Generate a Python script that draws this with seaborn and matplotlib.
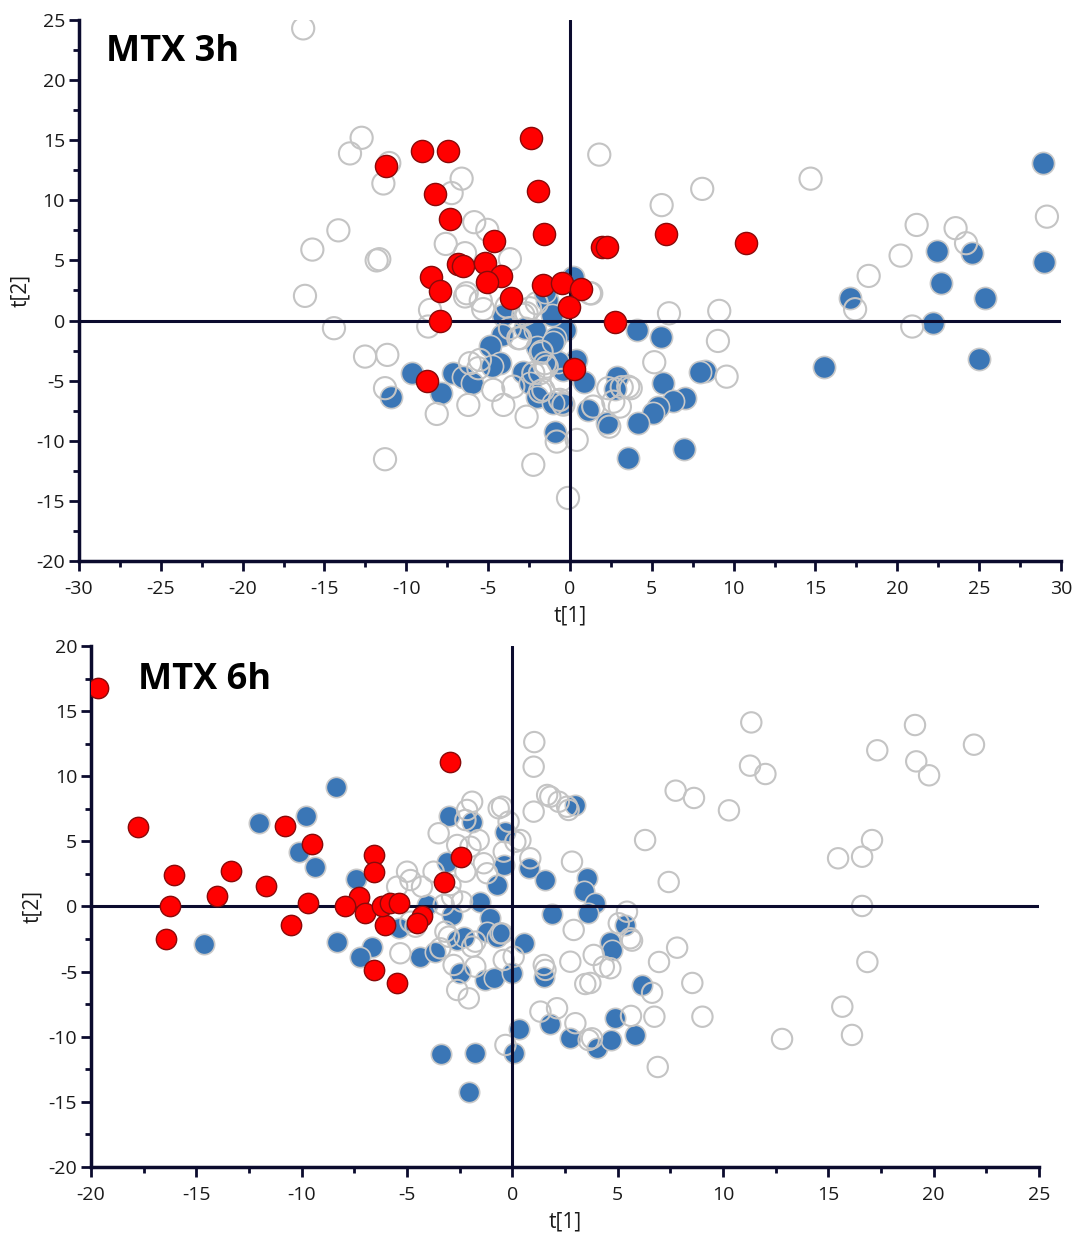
import numpy as np
import pandas as pd
import matplotlib
matplotlib.use("Agg")
import matplotlib.pyplot as plt
from matplotlib.ticker import MultipleLocator
import seaborn as sns

# ---------------- MTX 3h scores ----------------
h3_red_x = [-11.24, -9.04, -7.45, -2.38, -8.25, -1.95, -7.33, -1.59, -4.64, 1.98, 2.24,
            5.86, 10.73, -6.84, -6.55, -5.21, -4.23, -5.05, -8.47, -7.94, -3.62, -1.67,
            -0.51, 0.65, -0.08, -7.94, 2.75, 0.26, -8.75]
h3_red_y = [12.85, 14.1, 14.1, 15.2, 10.5, 10.8, 8.45, 7.2, 6.6, 6.1, 6.1,
            7.2, 6.48, 4.7, 4.54, 4.8, 3.73, 3.2, 3.6, 2.49, 1.9, 2.99,
            3.1, 2.65, 1.13, -0.06, -0.15, -4.0, -5.0]

h3_blue_x = [28.88, 28.96, 22.42, 24.54, 22.66, 25.33, 17.08, 22.15, 24.97, 15.5,
             4.09, 5.58, -0.3, 8.25, 7.94, 5.66, 2.85, 2.75, 0.86, -0.4, 0.35,
             7.03, 6.31, 5.39, 5.09, 4.17, 2.28, 1.12, 3.56, 6.98, -0.51, -0.92,
             -4.07, -4.17, -4.89, -4.28, -4.75, -7.13, -6.55, -6.0, -7.9, -9.63, -10.95,
             -2.75, -2.14, -1.42, -1.12, -0.92, -2.03, -1.83, -0.71, -2.85, -2.44,
             -2.03, -1.02, -1.53, 0.2, -1.02]
h3_blue_y = [13.14, 4.9, 5.77, 5.65, 3.1, 1.9, 1.9, -0.22, -3.2, -3.9,
             -0.78, -1.39, -0.78, -4.17, -4.25, -5.2, -4.67, -5.7, -5.13, -4.1, -3.28,
             -6.46, -6.69, -7.16, -7.7, -8.5, -8.54, -7.44, -11.4, -10.7, -6.88, -9.24,
             0.47, -1.2, -2.1, -3.55, -3.78, -4.38, -4.67, -5.2, -6.05, -4.38, -6.33,
             -0.64, -0.78, 1.71, 0.47, -1.47, -2.17, -2.72, -3.42, -4.25, -5.2,
             -6.33, -6.88, 2.4, 3.65, -1.75]

h3_open_x = [-16.3, -12.73, -13.44, -11.04, -11.4, -6.62, -7.23, -14.15, -15.74, -11.81,
             -11.65, -16.19, -14.42, -5.85, -5.05, -7.59, -6.41, -3.67, -6.41, -5.45,
             -5.3, -8.55, -8.66, 1.79, 1.3, -2.44, -2.03, -2.85, 8.08, 5.6, 14.7,
             21.18, 23.56, 24.2, 29.14, 20.2, 18.25, 17.42, 20.91, 6.05, 9.12, 9.04,
             5.15, 9.57, 2.34, 3.16, 3.71, 2.65, 2.4, 1.42, 0.41, -0.4, -0.12,
             -12.52, -11.16, -11.3, -8.14, -11.3, -6.31, -6.11, -5.5, -6.21, -4.07,
             -4.69, -3.46, -2.65, -2.24, -3.87, -3.05, -2.65, -1.73, -1.53, -2.24,
             -1.63, -0.61, -0.81, 1.22, -3.16, -3.67, -5.6, -1.42, -1.83, -1.83,
             -0.51, 3.56, 3.05]
h3_open_y = [24.3, 15.2, 13.9, 13.1, 11.4, 11.8, 10.6, 7.5, 5.9, 5.0,
             5.1, 2.05, -0.64, 8.18, 7.54, 6.37, 5.6, 5.1, 2.0, 1.65,
             0.95, 0.88, -0.5, 13.8, 2.25, 1.02, 1.44, 0.47, 10.95, 9.6, 11.8,
             7.95, 7.68, 6.43, 8.64, 5.4, 3.71, 0.94, -0.5, 0.6, 0.8, -1.7,
             -3.47, -4.67, -5.63, -5.55, -5.63, -6.75, -8.83, -7.16, -9.93, -7.0, -14.76,
             -3.0, -2.86, -5.63, -7.77, -11.54, 2.27, -3.55, -3.28, -7.02, -7.02,
             -5.77, -5.5, -8.0, -12.0, 1.16, -1.47, 0.6, -2.59, -3.55, -4.38,
             -5.77, -6.6, -10.07, 2.27, -1.47, -0.64, -3.97, -3.83, -4.38, -5.9,
             -4.94, -5.5, -7.16]

# ---------------- MTX 6h scores ----------------
h6_red_x = [-19.65, -17.78, -16.08, -16.26, -16.42, -14.01, -13.35, -11.69, -10.77, -9.51,
            -9.72, -10.5, -2.94, -6.58, -6.58, -7.29, -7.93, -6.98, -6.07, -6.18,
            -5.79, -5.4, -4.29, -4.52, -3.26, -2.42, -6.58, -5.5]
h6_red_y = [16.75, 6.08, 2.42, 0.0, -2.52, 0.8, 2.75, 1.57, 6.18, 4.8,
            0.25, -1.42, 11.11, 3.95, 2.62, 0.75, 0.06, -0.48, -1.42, 0.0,
            0.25, 0.25, -0.73, -1.24, 1.9, 3.82, -4.87, -5.87]

h6_blue_x = [-8.37, -12.01, -9.82, -10.14, -9.35, -14.62, -8.32, -7.4, -6.66, -7.21,
             -5.4, -4.05, -4.37, -3.65, -3.02, -1.91, -3.1, -2.86, -2.62, -2.31,
             -1.52, -1.04, -1.2, -2.47, -0.73, -0.49, -1.28, -0.89, -0.01, -0.73,
             -0.41, -0.33, 0.77, 1.57, 0.54, 1.88, 2.99, 3.55, 3.38, 3.94,
             3.57, 4.65, 4.73, 6.16, 1.52, 0.3, 0.06, -1.76, -3.38, -2.07,
             1.77, 2.72, 4.02, 4.68, 4.89, 5.84, 5.36]
h6_blue_y = [9.19, 6.39, 6.97, 4.2, 3.05, -2.88, -2.7, 2.09, -3.08, -3.85,
             -1.67, 0.12, -3.85, -3.47, 6.95, 6.51, 3.44, -0.65, -2.57, -2.32,
             0.37, -0.91, -1.93, -5.13, -2.32, -2.06, -5.64, -5.51, -5.13, 1.65,
             3.19, 5.74, 2.93, 2.03, -2.78, -0.58, 7.79, 2.16, 1.19, 0.25,
             -0.52, -2.7, -3.34, -6.02, -5.43, -9.43, -11.27, -11.27, -11.32, -14.26,
             -9.02, -10.12, -10.88, -10.25, -8.58, -9.86, -1.42]

h6_open_x = [11.34, 19.11, 21.91, 17.32, 19.17, 19.78, 11.28, 12.01, 7.75, 8.62,
             10.28, 6.3, 7.42, 17.07, 15.46, 16.6, 16.6, 16.85, 15.66, 16.12,
             12.8, 6.9, 5.44, 5.05, 5.68, 7.82, 6.96, 8.54, 6.63, 6.74,
             9.02, 5.63, 4.65, 4.34, 3.86, 3.7, 3.78,
             -1.91, -2.15, -2.23, -1.6, -3.5, -2.62, -1.99, -0.18, -0.49, 0.14,
             -0.41, 1.01, 1.8, 2.2, 2.6, 0.85, 2.83, -1.36, -1.2, -5.0,
             -4.84, -4.29, -5.47, -2.94, -2.86, -2.39, -3.26, -4.6, -4.84, -3.18,
             -3.02, -1.91, -1.76, -0.57, -0.41, -1.76, -5.32, -2.79, 1.49, 1.57,
             2.91, 2.75, 5.6, -3.74, -2.23, 1.04, 1.01, 3.46, 1.33, 2.12,
             2.99, 3.62, -0.33, -2.62, -2.07, -3.42, 0.38, 0.06, 1.65, 2.67,
             -0.65]
h6_open_y = [14.13, 13.93, 12.42, 11.99, 11.14, 10.07, 10.81, 10.17, 8.89, 8.33,
             7.38, 5.1, 1.88, 5.1, 3.7, 3.82, 0.04, -4.26, -7.69, -9.86,
             -10.17, -12.32, -0.4, -1.29, -2.62, -3.16, -4.26, -5.87, -6.62, -8.46,
             -8.46, -8.4, -4.74, -4.62, -3.72, -5.87, -10.12,
             8.04, 7.41, 6.64, 5.1, 5.62, 4.72, 4.59, 6.51, 7.66, 4.97,
             4.21, 7.28, 8.43, 8.04, 7.66, 3.7, 3.44, 3.32, 2.55, 2.67,
             2.03, 1.52, 1.52, 1.65, 0.75, 0.37, 0.12, -1.55, -1.17, -1.93,
             -2.32, -3.08, -2.7, -2.06, -4.1, -4.62, -3.59, -4.49, -4.49, -4.87,
             -1.8, -4.24, -2.44, 2.67, 2.67, 12.62, 10.73, -5.95, -8.07, -7.81,
             -8.96, -10.25, -10.63, -6.41, -7.05, -3.21, 5.1, -3.85, 8.56, 7.41,
             7.54]

panels = [
    dict(title="MTX 3h", red=(h3_red_x, h3_red_y), blue=(h3_blue_x, h3_blue_y),
         hollow=(h3_open_x, h3_open_y), xlim=(-30, 30), ylim=(-20, 25),
         rect=[0.0731, 0.548, 0.9093, 0.4359], size=255, title_xy=(0.028, 0.94)),
    dict(title="MTX 6h", red=(h6_red_x, h6_red_y), blue=(h6_blue_x, h6_blue_y),
         hollow=(h6_open_x, h6_open_y), xlim=(-20, 25), ylim=(-20, 20),
         rect=[0.0843, 0.0596, 0.8778, 0.4199], size=215, title_xy=(0.05, 0.935)),
]

sns.set_theme(style="white")
plt.rcParams["font.family"] = ["Open Sans", "DejaVu Sans"]
plt.rcParams["axes.unicode_minus"] = False

NAVY = "#0b0b2e"
RED = "#ff0000"
BLUE = "#3a76b6"
GREY = "#c4c4c4"

fig = plt.figure(figsize=(10.8, 12.41), dpi=100)

for p in panels:
    ax = fig.add_axes(p["rect"])
    blue = pd.DataFrame({"t1": p["blue"][0], "t2": p["blue"][1]})
    hollow = pd.DataFrame({"t1": p["hollow"][0], "t2": p["hollow"][1]})
    red = pd.DataFrame({"t1": p["red"][0], "t2": p["red"][1]})

    sns.scatterplot(data=blue, x="t1", y="t2", ax=ax, s=p["size"], color=BLUE,
                    edgecolor="#c9c9c9", linewidth=1.2, legend=False, zorder=2)
    sns.scatterplot(data=hollow, x="t1", y="t2", ax=ax, s=p["size"],
                    facecolor="none", edgecolor=GREY, linewidth=1.5, legend=False, zorder=3)
    ax.axhline(0, color=NAVY, lw=2.2, zorder=4)
    ax.axvline(0, color=NAVY, lw=2.2, zorder=4)
    sns.scatterplot(data=red, x="t1", y="t2", ax=ax, s=p["size"], color=RED,
                    edgecolor="#8a0a0a", linewidth=1.0, legend=False, zorder=5)

    ax.set_xlim(*p["xlim"])
    ax.set_ylim(*p["ylim"])
    ax.xaxis.set_major_locator(MultipleLocator(5))
    ax.xaxis.set_minor_locator(MultipleLocator(2.5))
    ax.yaxis.set_major_locator(MultipleLocator(5))
    ax.yaxis.set_minor_locator(MultipleLocator(2.5))
    ax.tick_params(which="major", direction="out", length=7, width=2, color=NAVY,
                   labelsize=14, labelcolor="#1a1a1a", bottom=True, left=True, pad=3)
    ax.tick_params(axis="x", which="major", pad=7)
    ax.tick_params(which="minor", direction="out", length=4, width=2, color=NAVY,
                   bottom=True, left=True)
    for side in ("top", "right"):
        ax.spines[side].set_visible(False)
    for side in ("left", "bottom"):
        ax.spines[side].set_color(NAVY)
        ax.spines[side].set_linewidth(2.5)
    ax.set_xlabel("t[1]", fontsize=15, color="#1a1a1a", labelpad=5)
    ax.set_ylabel("t[2]", fontsize=15, color="#1a1a1a", labelpad=4)
    ax.grid(False)
    ax.set_facecolor("white")
    ax.text(p["title_xy"][0], p["title_xy"][1], p["title"], transform=ax.transAxes,
            fontsize=26, fontweight="bold", color="black", ha="left", va="center",
            zorder=6)

fig.savefig("out.png", dpi=100, facecolor="white")
